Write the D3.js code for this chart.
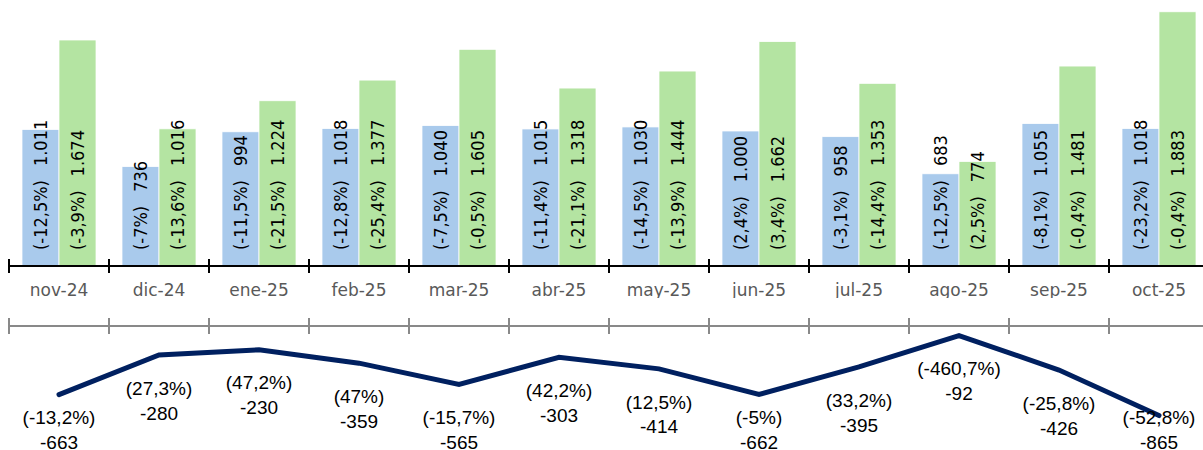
<!DOCTYPE html>
<html>
<head>
<meta charset="utf-8">
<script src="https://cdn.jsdelivr.net/npm/d3@7"></script>
<style>
  body { margin: 0; background: #fff; }
  svg { display: block; }
</style>
</head>
<body>
<svg id="chart" width="1203" height="450"></svg>
<script>
var months = ['nov-24','dic-24','ene-25','feb-25','mar-25','abr-25','may-25','jun-25','jul-25','ago-25','sep-25','oct-25'];
var blueValues = [1011, 736, 994, 1018, 1040, 1015, 1030, 1000, 958, 683, 1055, 1018];
var bluePct = [-12.5, -7, -11.5, -12.8, -7.5, -11.4, -14.5, 2.4, -3.1, -12.5, -8.1, -23.2];
var greenValues = [1674, 1016, 1224, 1377, 1605, 1318, 1444, 1662, 1353, 774, 1481, 1883];
var greenPct = [-3.9, -13.6, -21.5, -25.4, -0.5, -21.1, -13.9, 3.4, -14.4, 2.5, -0.4, -0.4];
var lineValues = [-663, -280, -230, -359, -565, -303, -414, -662, -395, -92, -426, -865];
var linePct = [-13.2, 27.3, 47.2, 47, -15.7, 42.2, 12.5, -5, 33.2, -460.7, -25.8, -52.8];

var W = 1203, H = 450;
var svg = d3.select('#chart');

var es = d3.formatLocale({decimal: ',', thousands: '.', grouping: [3], currency: ['', '€']});
var fmtNum = es.format(',');
function fmtPct(v) { return '(' + String(v).replace('.', ',') + '%)'; }

var x = d3.scaleBand().domain(months).range([9, 1209]);
var xSub = d3.scaleBand().domain(['blue', 'green']).range([13, 87]);
var yBar = d3.scaleLinear().domain([0, 2000]).range([266, -4]);
var yLine = d3.scaleLinear().domain([-1000, 0]).range([429.5, 326]);

var colors = {blue: '#a9caec', green: '#b4e4a2'};

var rows = months.map(function(m, i) {
    return {month: m,
        bars: [{key: 'blue', value: blueValues[i], pct: bluePct[i]},
               {key: 'green', value: greenValues[i], pct: greenPct[i]}],
        line: lineValues[i], linePct: linePct[i]};
});

// bars
var group = svg.append('g').selectAll('g').data(rows).join('g')
    .attr('transform', function(d) { return 'translate(' + x(d.month) + ',0)'; });

group.selectAll('rect').data(function(d) { return d.bars; }).join('rect')
    .attr('x', function(d) { return xSub(d.key); })
    .attr('width', xSub.bandwidth())
    .attr('y', function(d) { return yBar(d.value); })
    .attr('height', function(d) { return yBar(0) - yBar(d.value); })
    .attr('fill', function(d) { return colors[d.key]; })
    .attr('stroke', '#fff')
    .attr('stroke-width', 0.75);

var lbl = group.selectAll('text.bar').data(function(d) { return d.bars; }).join('text')
    .attr('class', 'bar')
    .attr('transform', function(d) {
        return 'translate(' + (xSub(d.key) + xSub.bandwidth() / 2) + ',250) rotate(-90)';
    })
    .attr('dy', '0.36em')
    .attr('font-family', '"DejaVu Sans Condensed", "DejaVu Sans", sans-serif')
    .attr('font-stretch', 'condensed')
    .attr('font-size', 18)
    .attr('fill', '#000');
lbl.append('tspan').text(function(d) { return fmtPct(d.pct); });
lbl.append('tspan').attr('dx', 14).text(function(d) { return fmtNum(d.value); });

// top axis
var axisTop = svg.append('g');
axisTop.append('path').attr('d', 'M9,266H' + W).attr('stroke', '#000').attr('stroke-width', 2);
axisTop.selectAll('line').data(months).join('line')
    .attr('x1', function(d) { return x(d); }).attr('x2', function(d) { return x(d); })
    .attr('y1', 259).attr('y2', 273)
    .attr('stroke', '#000').attr('stroke-width', 2);

svg.append('clipPath').attr('id', 'labclip')
    .append('rect').attr('x', 0).attr('y', 270).attr('width', W).attr('height', 28);

svg.append('g').attr('clip-path', 'url(#labclip)')
    .selectAll('text').data(months).join('text')
    .attr('x', function(d) { return x(d) + x.bandwidth() / 2; })
    .attr('y', 296)
    .attr('text-anchor', 'middle')
    .attr('font-family', '"DejaVu Sans", sans-serif')
    .attr('font-size', 17)
    .attr('fill', '#595959')
    .text(function(d) { return d; });

// lower axis
var axisLow = svg.append('g');
axisLow.append('path').attr('d', 'M9,' + yLine(0) + 'H' + W).attr('stroke', '#898989').attr('stroke-width', 2);
axisLow.selectAll('line').data(months).join('line')
    .attr('x1', function(d) { return x(d); }).attr('x2', function(d) { return x(d); })
    .attr('y1', 318).attr('y2', 334)
    .attr('stroke', '#898989').attr('stroke-width', 2);

// line
var cx = function(d) { return x(d.month) + x.bandwidth() / 2; };
svg.append('path').datum(rows)
    .attr('d', d3.line().x(cx).y(function(d) { return yLine(d.line); }))
    .attr('fill', 'none')
    .attr('stroke', '#002060')
    .attr('stroke-width', 5)
    .attr('stroke-linecap', 'round');

var lineLbl = svg.append('g').selectAll('text').data(rows).join('text')
    .attr('text-anchor', 'middle')
    .attr('font-family', '"Liberation Sans", Arial, sans-serif')
    .attr('font-size', 19)
    .attr('fill', '#000')
    .attr('transform', function(d) {
        return 'translate(' + cx(d) + ',' + Math.min(yLine(d.line) + 33, 417) + ')';
    });
lineLbl.append('tspan').attr('x', 0).attr('dy', '0.35em').text(function(d) { return fmtPct(d.linePct); });
lineLbl.append('tspan').attr('x', 0).attr('dy', 25).text(function(d) { return d.line; });
</script>
</body>
</html>
